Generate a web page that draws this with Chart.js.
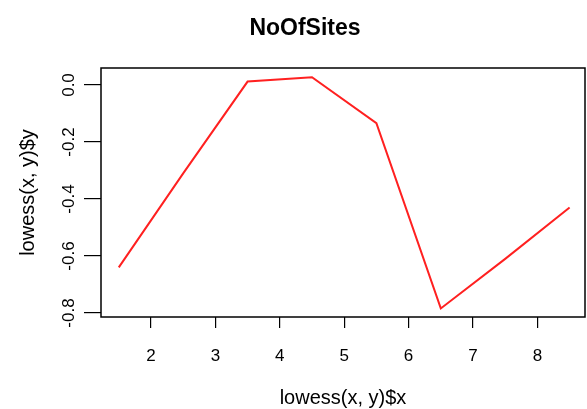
<!DOCTYPE html>
<html>
<head>
<meta charset="utf-8">
<script src="https://cdn.jsdelivr.net/npm/chart.js@4/dist/chart.umd.min.js"></script>
<style>
	html, body { margin: 0; padding: 0; background: #fff; }
	canvas { display: block; }
</style>
</head>
<body>
<canvas id="grafica" width="587" height="409"></canvas>
<script>

// valores
var titulo = 'NoOfSites';
var tituloX = 'lowess(x, y)$x';
var tituloY = 'lowess(x, y)$y';
var lowessX = [1.5, 2.5, 3.5, 4.5, 5.5, 6.5, 7.5, 8.5];
var lowessY = [-0.64, -0.31, 0.012, 0.027, -0.134, -0.784, -0.61, -0.43];
var ticksX = [2, 3, 4, 5, 6, 7, 8];
var ticksY = [-0.8, -0.6, -0.4, -0.2, 0.0];
var etiquetasY = ['-0.8', '-0.6', '-0.4', '-0.2', '0.0'];

var fuente = "'Liberation Sans', Arial, Helvetica, sans-serif";

// caja alrededor del área y título principal (al estilo R)
var cajaR = {
	id: 'cajaR',
	afterDraw: function(chart){
		var ctx = chart.ctx;
		var a = chart.chartArea;
		ctx.save();
		ctx.strokeStyle = '#000';
		ctx.lineWidth = 1.5;
		ctx.strokeRect(a.left, a.top, a.right - a.left, a.bottom - a.top);
		ctx.fillStyle = '#000';
		ctx.font = 'bold 23px ' + fuente;
		ctx.textAlign = 'center';
		ctx.textBaseline = 'middle';
		ctx.fillText(titulo, 305, 29);
		ctx.restore();
	}
};

var puntos = lowessX.map(function(x, i){ return {x: x, y: lowessY[i]}; });

var grafica = new Chart(document.getElementById('grafica'), {
	type: 'scatter',
	data: {
		datasets: [{
			data: puntos,
			showLine: true,
			borderColor: '#ff2020',
			borderWidth: 2,
			pointRadius: 0,
			fill: false,
			tension: 0
		}]
	},
	options: {
		responsive: false,
		animation: false,
		devicePixelRatio: 1,
		layout: { padding: { top: 68, right: 2, left: 0, bottom: 0 } },
		plugins: {
			legend: { display: false },
			title: { display: false },
			tooltip: { enabled: false }
		},
		scales: {
			x: {
				type: 'linear',
				min: 1.224,
				max: 8.739,
				border: { display: false },
				grid: { drawOnChartArea: false, drawTicks: true, tickLength: 11, tickColor: '#000', lineWidth: 1.2 },
				afterBuildTicks: function(scale){
					scale.ticks = ticksX.map(function(v){ return {value: v}; });
				},
				afterFit: function(scale){ scale.height = 92; },
				ticks: {
					color: '#000',
					padding: 18,
					maxRotation: 0,
					font: { family: fuente, size: 17 },
					callback: function(v){ return String(v); }
				},
				title: {
					display: true,
					text: tituloX,
					color: '#000',
					font: { family: fuente, size: 20, lineHeight: 1.1 },
					padding: { top: 0, bottom: 0 }
				}
			},
			y: {
				type: 'linear',
				min: -0.814,
				max: 0.0596,
				border: { display: false },
				grid: { drawOnChartArea: false, drawTicks: true, tickLength: 17, tickColor: '#000', lineWidth: 1.2 },
				afterBuildTicks: function(scale){
					scale.ticks = ticksY.map(function(v){ return {value: v}; });
				},
				afterFit: function(scale){ scale.width = 101; },
				ticks: {
					color: '#000',
					padding: 0,
					minRotation: 90,
					maxRotation: 90,
					crossAlign: 'center',
					font: { family: fuente, size: 17 },
					callback: function(v, i){ return etiquetasY[i]; }
				},
				title: {
					display: true,
					text: tituloY,
					color: '#000',
					font: { family: fuente, size: 20, lineHeight: 1.1 },
					padding: { top: 17, bottom: 0 }
				}
			}
		}
	},
	plugins: [cajaR]
});
</script>
</body>
</html>
